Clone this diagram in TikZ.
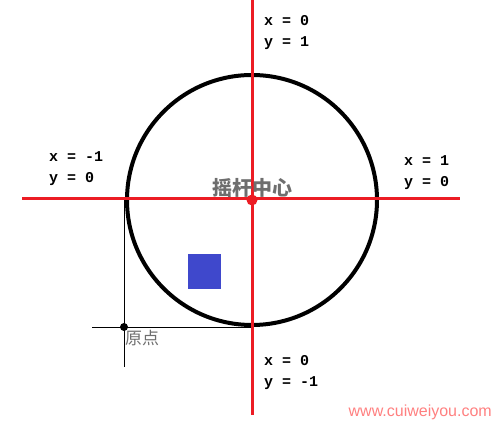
\documentclass[tikz,border=0pt]{standalone}
\usepackage{fontspec}
\setmonofont{Liberation Mono}
\setsansfont{Liberation Sans}
\newfontfamily\cjk{Noto Sans CJK SC}
\definecolor{axisred}{RGB}{236,28,36}
\definecolor{padblue}{RGB}{63,72,204}
\definecolor{labelgray}{RGB}{110,110,110}
\definecolor{markpink}{RGB}{255,128,128}
\tikzset{
  axisline/.style={draw=axisred, line width=3pt},
  thinline/.style={draw=black, line width=0.8pt},
  coordlabel/.style={font=\fontsize{15}{21}\selectfont\ttfamily\bfseries, align=left, inner sep=0pt, anchor=north west},
}
\begin{document}
\begin{tikzpicture}[x=1pt, y=-1pt]
\useasboundingbox (0,0) rectangle (496,422);

\def\cx{252} % centre du joystick
\def\cy{200}
\def\rad{125} % rayon du cercle

\coordinate (center) at (\cx,\cy);
\coordinate (left) at (22,199);
\coordinate (right) at (460,199);
\coordinate (top) at (\cx,0);
\coordinate (bottom) at (\cx,415);
\coordinate (origin) at (124,327);

% thin frame to the origin
\draw[thinline] (124,199) -- (124,367);
\draw[thinline] (92,327) -- (\cx,327);

% circle
\draw[line width=4pt] (center) circle (\rad);

% red axes
\draw[axisline] (left) -- (right);
\draw[axisline] (top) -- (bottom);
\fill[axisred] (center) circle (5.5);

% stick position
\fill[padblue] (188,254) rectangle (221,289);

% origin dot
\fill (origin) circle (4);
\node[font=\cjk\fontsize{17}{17}\selectfont, text=labelgray, anchor=north west, inner sep=0pt] (originlabel) at (125,330) {原点};

\node[font=\cjk\bfseries\fontsize{20}{20}\selectfont, text=labelgray, inner sep=0pt] (centerlabel) at (252,188) {摇杆中心};

% coordinate labels
\foreach \name/\px/\py/\xv/\yv in {up/264/15/0/1, lt/49/151/-1/0, rt/404/155/1/0, dn/264/355/0/-1} {
  \node[coordlabel] (\name) at (\px,\py) {x = \xv\\y = \yv};
}

\node[font=\sffamily\fontsize{16}{16}\selectfont, text=markpink, anchor=east, inner sep=0pt] (mark) at (492,412) {www.cuiweiyou.com};

\end{tikzpicture}
\end{document}
